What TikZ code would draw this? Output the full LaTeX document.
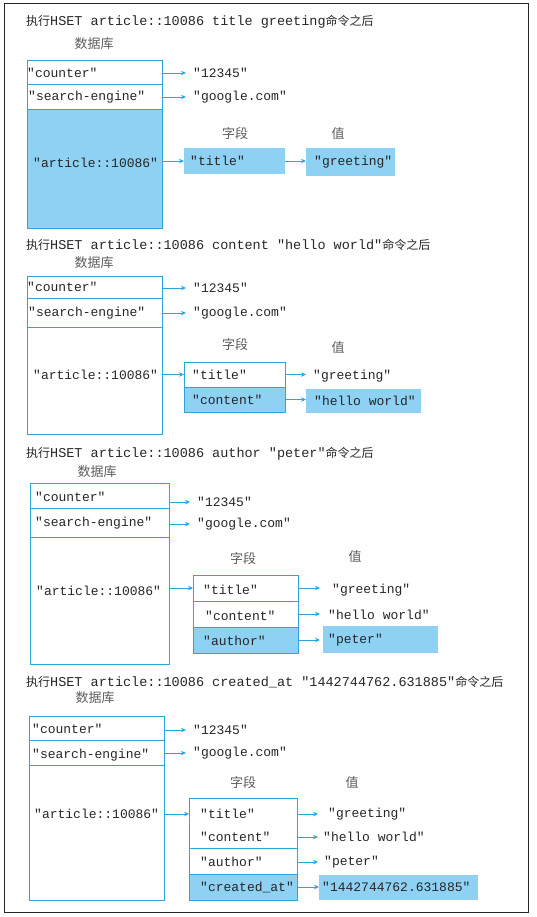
\documentclass[tikz,border=0pt]{standalone}
\usepackage{fontspec}
\usetikzlibrary{arrows.meta}
\newfontfamily\monof{Liberation Mono}
\newfontfamily\cjkf{Noto Sans CJK SC}
\definecolor{lb}{HTML}{2BA6DC}
\definecolor{fb}{HTML}{8ED1F2}
\definecolor{tx}{HTML}{262626}
\newcommand\cjt[1]{{\cjkf\fontsize{12}{14}\selectfont #1}}
\tikzset{
  cell/.style={draw=lb, line width=0.9pt, anchor=north west, inner sep=0pt, outer sep=0pt},
  rowc/.style={draw=none, anchor=north west, inner sep=0pt, outer sep=0pt},
  vbox/.style={fill=fb, draw=none, anchor=north west, inner sep=0pt, outer sep=0pt},
  t/.style={font=\monof\fontsize{13}{15}\selectfont, text=tx, anchor=west, inner sep=0pt},
  ttl/.style={font=\monof\fontsize{13.5}{15}\selectfont, text=tx, anchor=west, inner sep=0pt},
  cj/.style={font=\cjkf\fontsize{13}{15}\selectfont, text=tx!75, inner sep=0pt},
  arr/.style={draw=lb, line width=0.9pt, -{Stealth[length=5pt,width=4.5pt]}},
  outer/.style={draw=black!85, line width=1.3pt}
}
\begin{document}
\begin{tikzpicture}[x=1pt,y=-1pt]
\useasboundingbox (0,0) rectangle (537,917);
\node[outer, anchor=north west, minimum width=524pt, minimum height=909pt, inner sep=0pt] (frame) at (4,3) {};

% ---------------- section 1
\node[ttl] (t1) at (26,22) {\cjt{执行}HSET article::10086 title greeting\cjt{命令之后}};
\node[cj] (d1) at (94,44) {数据库};
\node[cell, minimum width=135pt, minimum height=24pt] (c11) at (27,60) {};
\node[cell, minimum width=135pt, minimum height=25pt] (c12) at (27,84) {};
\node[cell, fill=fb, minimum width=135pt, minimum height=119pt] (db1) at (27,109) {};
\node[t] (k11) at (27,73) {"counter"};
\node[t] (k12) at (28,97) {"search-engine"};
\node[t] (k13) at (33,163) {"article::10086"};
\node[t] (v11) at (193,73) {"12345"};
\node[t] (v12) at (193,97) {"google.com"};
\draw[arr] (c11.east |- v11.west) -- ([xshift=-7pt]v11.west);
\draw[arr] (c12.east |- v12.west) -- ([xshift=-7pt]v12.west);
\node[cj] (fl1) at (235,134) {字段};
\node[cj] (vl1) at (338,134) {值};
\node[vbox, minimum width=101pt, minimum height=26pt] (f11) at (184,148) {};
\node[t] (ft11) at (190,161) {"title"};
\node[vbox, minimum width=89pt, minimum height=28pt] (g11) at (306,148) {};
\node[t] (gt11) at (314,162) {"greeting"};
\draw[arr] (db1.east |- f11.west) -- (f11.west);
\draw[arr] (f11.east) -- (g11.west |- f11.east);

% ---------------- section 2
\node[ttl] (t2) at (26,245) {\cjt{执行}HSET article::10086 content "hello world"\cjt{命令之后}};
\node[cj] (d2) at (94,263) {数据库};
\node[cell, minimum width=135pt, minimum height=22pt] (c21) at (27,276) {};
\node[cell, minimum width=135pt, minimum height=29pt] (c22) at (27,298) {};
\node[cell, minimum width=135pt, minimum height=107pt] (db2) at (27,327) {};
\node[t] (k21) at (27,287) {"counter"};
\node[t] (k22) at (28,313) {"search-engine"};
\node[t] (k23) at (33,375) {"article::10086"};
\node[t] (v21) at (193,288) {"12345"};
\node[t] (v22) at (193,313) {"google.com"};
\draw[arr] (c21.east |- v21.west) -- ([xshift=-7pt]v21.west);
\draw[arr] (c22.east |- v22.west) -- ([xshift=-7pt]v22.west);
\node[cj] (fl2) at (235,345) {字段};
\node[cj] (vl2) at (338,348) {值};
\node[cell, minimum width=101pt, minimum height=25pt] (f21) at (184,362) {};
\node[cell, fill=fb, minimum width=101pt, minimum height=25pt] (f22) at (184,387) {};
\node[t] (ft21) at (192,375) {"title"};
\node[t] (ft22) at (192,400) {"content"};
\node[t] (gt21) at (313,376) {"greeting"};
\node[vbox, minimum width=115pt, minimum height=24pt] (g22) at (306,389) {};
\node[t] (gt22) at (314,401) {"hello world"};
\draw[arr] (db2.east |- f21.west) -- (f21.west);
\draw[arr] (f21.east) -- ([xshift=-7pt]gt21.west |- f21.east);
\draw[arr] (f22.east) -- (g22.west |- f22.east);

% ---------------- section 3
\node[ttl] (t3) at (26,454) {\cjt{执行}HSET article::10086 author "peter"\cjt{命令之后}};
\node[cj] (d3) at (97,472) {数据库};
\node[cell, minimum width=139pt, minimum height=25pt] (c31) at (30,483) {};
\node[cell, minimum width=139pt, minimum height=29pt] (c32) at (30,508) {};
\node[cell, minimum width=139pt, minimum height=127pt] (db3) at (30,537) {};
\node[t] (k31) at (35,497) {"counter"};
\node[t] (k32) at (35,523) {"search-engine"};
\node[t] (k33) at (36,591) {"article::10086"};
\node[t] (v31) at (197,502) {"12345"};
\node[t] (v32) at (197,524) {"google.com"};
\draw[arr] (c31.east |- v31.west) -- ([xshift=-7pt]v31.west);
\draw[arr] (c32.east |- v32.west) -- ([xshift=-7pt]v32.west);
\node[cj] (fl3) at (243,559) {字段};
\node[cj] (vl3) at (355,557) {值};
\node[cell, minimum width=105pt, minimum height=26pt] (f31) at (193,575) {};
\node[cell, minimum width=105pt, minimum height=26pt] (f32) at (193,601) {};
\node[cell, fill=fb, minimum width=105pt, minimum height=26pt] (f33) at (193,627) {};
\node[t] (ft31) at (203,590) {"title"};
\node[t] (ft32) at (205,616) {"content"};
\node[t] (ft33) at (203,641) {"author"};
\node[t] (gt31) at (332,590) {"greeting"};
\node[t] (gt32) at (328,615) {"hello world"};
\node[vbox, minimum width=115pt, minimum height=27pt] (g33) at (323,626) {};
\node[t] (gt33) at (328,640) {"peter"};
\draw[arr] (db3.east |- f31.west) -- (f31.west);
\draw[arr] (f31.east) -- ([xshift=-12pt]gt31.west |- f31.east);
\draw[arr] (f32.east) -- ([xshift=-8pt]gt32.west |- f32.east);
\draw[arr] (f33.east) -- ([xshift=-3pt]g33.west |- f33.east);

% ---------------- section 4
\node[ttl] (t4) at (26,682) {\cjt{执行}HSET article::10086 created\_at "1442744762.631885"\cjt{命令之后}};
\node[cj] (d4) at (95,698) {数据库};
\node[cell, minimum width=135pt, minimum height=24pt] (c41) at (29,716) {};
\node[cell, minimum width=135pt, minimum height=25pt] (c42) at (29,740) {};
\node[cell, minimum width=135pt, minimum height=135pt] (db4) at (29,765) {};
\node[t] (k41) at (32,729) {"counter"};
\node[t] (k42) at (32,755) {"search-engine"};
\node[t] (k43) at (34,814) {"article::10086"};
\node[t] (v41) at (193,730) {"12345"};
\node[t] (v42) at (193,753) {"google.com"};
\draw[arr] (c41.east |- v41.west) -- ([xshift=-7pt]v41.west);
\draw[arr] (c42.east |- v42.west) -- ([xshift=-7pt]v42.west);
\node[cj] (fl4) at (243,783) {字段};
\node[cj] (vl4) at (352,783) {值};
\node[rowc, minimum width=108pt, minimum height=25pt] (f41) at (189,798) {};
\node[rowc, minimum width=108pt, minimum height=25pt] (f42) at (189,823) {};
\node[cell, minimum width=108pt, minimum height=102pt] (fb4) at (189,798) {};
\node[cell, minimum width=108pt, minimum height=26pt] (f43) at (189,848) {};
\node[cell, fill=fb, minimum width=108pt, minimum height=26pt] (f44) at (189,874) {};
\node[t] (ft41) at (200,814) {"title"};
\node[t] (ft42) at (200,837) {"content"};
\node[t] (ft43) at (200,862) {"author"};
\node[t] (ft44) at (200,887) {"created\_at"};
\node[t] (gt41) at (328,814) {"greeting"};
\node[t] (gt42) at (323,837) {"hello world"};
\node[t] (gt43) at (324,862) {"peter"};
\node[vbox, minimum width=159pt, minimum height=25pt] (g44) at (319,875) {};
\node[t] (gt44) at (322,887) {"1442744762.631885"};
\draw[arr] (db4.east |- ft41.west) -- (fb4.west |- ft41.west);
\draw[arr] (fb4.east |- gt41.west) -- ([xshift=-10pt]gt41.west);
\draw[arr] (fb4.east |- gt42.west) -- ([xshift=-5pt]gt42.west);
\draw[arr] (f43.east |- gt43.west) -- ([xshift=-6pt]gt43.west);
\draw[arr] (f44.east |- gt44.west) -- (g44.west |- gt44.west);
\end{tikzpicture}
\end{document}
